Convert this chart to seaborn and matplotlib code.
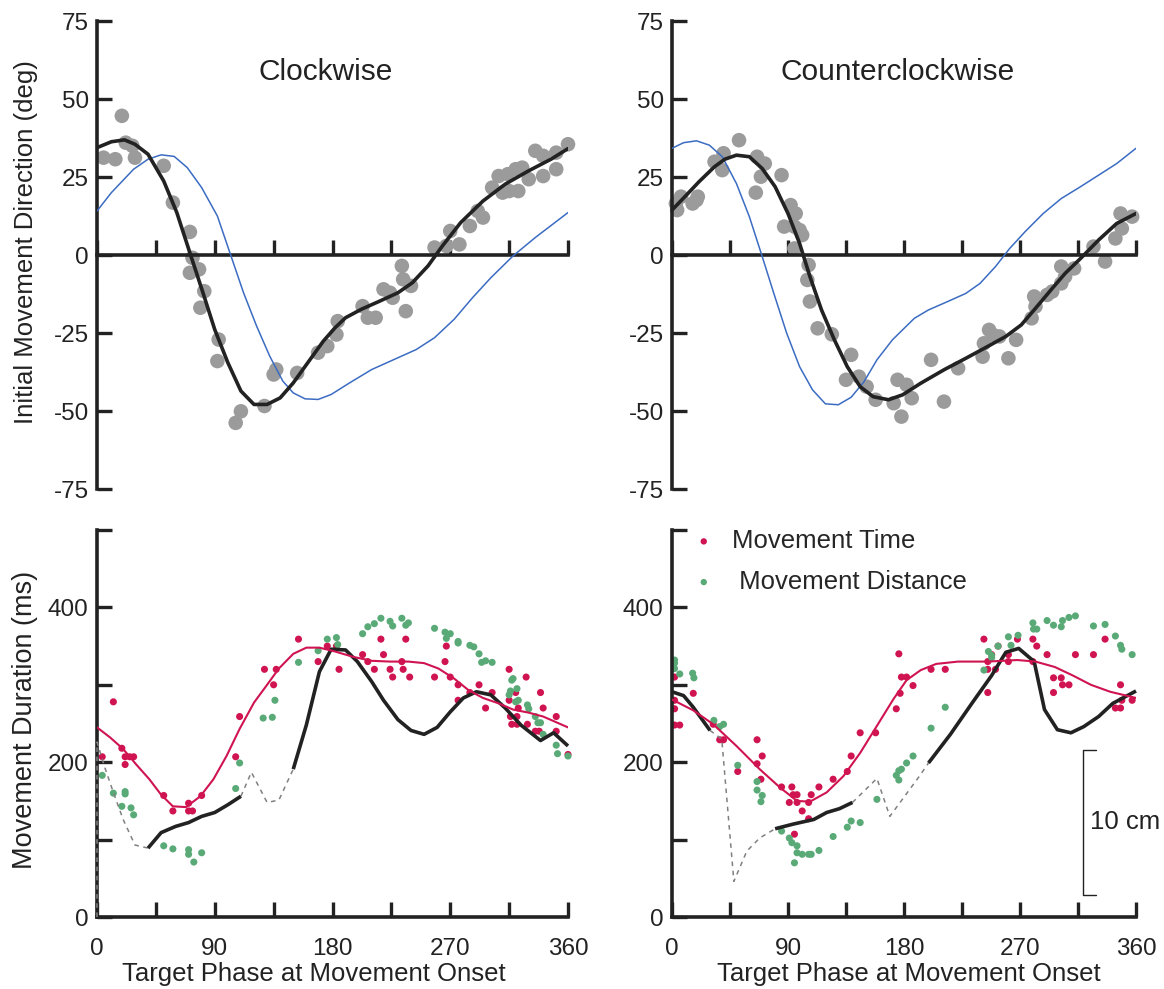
import numpy as np
import matplotlib
matplotlib.use("Agg")
import matplotlib.pyplot as plt
import seaborn as sns

# -------------------------------
# DATA : INITIAL MOVEMENT DIRECTION
# -------------------------------

cw_fit_x = [0, 11, 21, 29, 39, 51, 61, 71, 81, 90, 100, 110, 120, 130, 140, 150, 162,
            173, 182, 190, 202, 216, 230, 241, 253, 264, 278, 295, 312, 330, 347, 360]
cw_fit_y = [34.4, 36.3, 36.9, 35.5, 32.3, 23.7, 13.6, 0.7, -12.1, -23.9, -34.5, -43.6,
            -47.9, -47.9, -45.8, -41.0, -34.0, -27.6, -23.3, -20.1, -17.4, -14.8, -12.1,
            -8.9, -3.5, 2.9, 10.4, 17.3, 22.7, 27.0, 30.7, 34.1]

cw_model_x = [0, 11, 28, 39, 49, 59, 69, 80, 92, 102, 112, 122, 132, 142, 150, 159, 169,
              179, 193, 210, 227, 244, 258, 273, 287, 301, 318, 335, 360]
cw_model_y = [14.1, 20.0, 27.5, 30.7, 32.1, 31.6, 28.0, 21.6, 12.5, 0.2, -12.1, -22.8,
              -32.4, -40.4, -44.2, -46.1, -46.3, -44.7, -41.0, -36.7, -33.5, -30.3, -26.5,
              -20.6, -13.7, -7.3, -0.3, 5.6, 13.6]

cw_dots_x = [5, 14, 19, 22, 27, 29, 51, 58, 71, 73, 71, 78, 82, 79, 93, 92, 106, 110,
             128, 135, 137, 153, 169, 176, 183, 184, 203, 207, 213, 219, 224, 226, 233,
             234, 240, 236, 258, 267, 270, 277, 285, 291, 295, 302, 307, 310, 314, 315,
             320, 322, 325, 330, 335, 341, 341, 351, 351, 360]
cw_dots_y = [31.2, 30.7, 44.6, 36.0, 35.0, 31.2, 28.6, 16.8, 7.4, -0.9, -5.7, -4.6,
             -11.6, -16.9, -27.1, -34.0, -53.8, -50.1, -48.4, -38.3, -36.7, -37.8, -31.3,
             -29.2, -25.5, -21.2, -16.4, -20.1, -20.1, -11.0, -12.1, -13.7, -3.5, -7.8,
             -9.9, -18.0, 2.4, 2.9, 7.7, 3.4, 9.3, 14.1, 12.0, 21.6, 25.3, 20.0, 25.9,
             20.5, 27.5, 20.5, 28.0, 24.3, 33.4, 31.8, 25.3, 32.8, 27.5, 35.5]

ccw_fit_x = [0, 10, 21, 33, 41, 50, 60, 70, 80, 90, 99, 107, 116, 126, 136, 146, 156,
             168, 179, 193, 211, 228, 245, 259, 271, 282, 294, 305, 317, 331, 345, 360]
ccw_fit_y = [14.4, 18.7, 23.5, 28.3, 30.7, 32.0, 31.5, 27.7, 21.9, 13.3, 3.7, -6.9,
             -17.6, -27.2, -35.8, -42.2, -45.4, -46.4, -44.8, -41.1, -36.8, -33.1, -29.3,
             -26.1, -22.4, -17.1, -11.2, -5.9, -1.1, 4.8, 10.1, 13.3]

ccw_model_x = [0, 9, 19, 29, 39, 50, 60, 70, 79, 89, 99, 109, 119, 129, 139, 149, 159,
               171, 188, 199, 214, 228, 239, 251, 262, 274, 288, 302, 317, 331, 345, 360]
ccw_model_y = [34.2, 36.0, 36.6, 35.2, 31.5, 22.9, 12.3, -0.5, -12.3, -25.1, -35.8,
               -43.2, -47.7, -48.0, -45.6, -40.6, -33.6, -27.2, -20.3, -17.6, -14.9,
               -12.3, -9.1, -3.7, 2.1, 7.5, 13.3, 18.1, 21.9, 25.6, 29.3, 34.2]

ccw_dots_x = [3, 4, 7, 16, 20, 19, 33, 39, 40, 52, 66, 65, 69, 72, 85, 87, 92, 96, 95,
              99, 101, 95, 106, 105, 107, 113, 124, 139, 135, 145, 151, 158, 172, 175,
              182, 178, 186, 201, 211, 222, 241, 242, 246, 249, 254, 261, 267, 279, 281,
              282, 291, 295, 302, 302, 305, 312, 327, 336, 344, 348, 349, 357]
ccw_dots_y = [16.5, 14.4, 18.7, 16.5, 18.7, 17.6, 29.9, 27.2, 32.6, 36.8, 31.5, 20.0,
              25.1, 29.3, 25.6, 9.1, 16.0, 13.3, 9.1, 8.0, 6.4, 2.1, -3.2, -8.0, -14.9,
              -23.5, -25.4, -32.0, -40.0, -39.0, -42.2, -46.4, -47.5, -40.0, -41.6, -51.8,
              -45.9, -33.6, -47.0, -36.3, -32.6, -28.3, -24.0, -25.6, -26.1, -33.1, -27.2,
              -20.3, -13.3, -16.5, -12.8, -11.7, -3.7, -9.1, -6.9, -4.3, 2.7, -2.1, 5.3,
              13.3, 8.5, 12.3]

# -------------------------------
# DATA : MOVEMENT DURATION
# -------------------------------

cw_time_fit_x = [0, 10, 20, 30, 40, 49, 58, 68, 79, 89, 99, 109, 120, 130, 139, 150, 160,
                 170, 182, 196, 210, 224, 238, 250, 261, 273, 284, 295, 307, 318, 330, 341, 360]
cw_time_fit_y = [245, 232, 217, 197, 178, 158, 143, 142, 156, 178, 208, 243, 277, 300,
                 321, 340, 348, 348, 343, 336, 331, 330, 330, 328, 321, 308, 293, 283, 276,
                 268, 264, 259, 245]

# solid pieces of the black trace and the dashed gaps between them
cw_solid = [
    ([39, 49, 60, 70, 80, 90, 100, 110], [89, 109, 117, 122, 130, 135, 145, 156]),
    ([150, 160, 170, 179, 190, 199, 210, 219, 230, 240, 250, 260, 270, 280, 290, 301,
      312, 324, 339, 349, 360],
     [191, 248, 317, 346, 345, 330, 304, 280, 255, 241, 236, 245, 265, 283, 291, 287,
      270, 248, 228, 238, 221]),
]
cw_dashed = [
    ([0, 0, 6, 12.5, 20, 29, 39], [0, 226, 193, 161, 126, 93, 89]),
    ([110, 118, 130, 139, 150], [156, 187, 148, 151, 191]),
]

cw_time_x = [4, 12.5, 19, 21.5, 21.5, 25, 28, 51, 58, 70, 70, 73, 80, 106, 109, 128,
             135, 137, 154, 169, 176, 183, 185, 203, 207, 212, 217, 219, 224, 226, 233,
             234, 236, 239, 258, 266, 267, 270, 276, 276, 285, 292, 297, 302, 315, 315,
             316, 317, 320, 321, 321, 322, 328, 329, 335, 338, 339, 341, 351, 351, 360]
cw_time_y = [207, 278, 218, 207, 197, 207, 207, 157, 137, 147, 137, 137, 157, 207, 259,
             320, 300, 320, 359, 330, 350, 350, 320, 339, 330, 320, 359, 339, 320, 310,
             330, 320, 359, 310, 310, 330, 350, 310, 300, 280, 290, 300, 270, 290, 320,
             280, 259, 249, 290, 259, 249, 270, 310, 249, 240, 240, 290, 270, 259, 240, 210]

cw_dist_x = [4, 12.5, 21.5, 21.5, 19, 26, 28, 51, 58, 70, 70, 74, 80, 106, 109, 127,
             134, 136, 154, 169, 176, 183, 184, 203, 207, 212, 217, 224, 226, 233, 236,
             238, 258, 266, 267, 270, 276, 276, 285, 288, 292, 294, 297, 302, 315, 316,
             317, 318, 320, 321, 322, 329, 330, 335, 337, 339, 341, 351, 352, 360]
cw_dist_y = [183, 160, 159, 162, 143, 141, 132, 92, 88, 87, 81, 71, 83, 166, 199, 257,
             258, 280, 329, 344, 359, 361, 352, 366, 375, 379, 386, 382, 376, 386, 377,
             380, 373, 368, 360, 366, 356, 354, 351, 349, 340, 329, 331, 329, 287, 292,
             306, 308, 278, 295, 280, 274, 269, 259, 251, 251, 236, 222, 211, 208]

ccw_time_fit_x = [0, 16.5, 32, 50, 68, 84, 97, 107, 120, 133, 146, 159, 172, 182, 193,
                  205, 222, 245, 268, 282, 297, 311, 325, 340, 360]
ccw_time_fit_y = [281, 267, 249, 221, 191, 167, 150, 149, 161, 182, 212, 247, 282, 306,
                  319, 327, 330, 330, 332, 330, 323, 312, 300, 291, 283]

ccw_solid = [
    ([0, 9, 16.5, 23, 29.5], [291, 286, 271, 256, 241]),
    ([80, 94, 110, 120, 130, 140], [114, 120, 126, 135, 140, 148]),
    ([199, 216, 233.5, 248, 259, 269, 281, 289, 299, 309.5, 319.5, 331, 342, 360],
     [199, 236, 278, 312, 342, 347, 330, 268, 242, 238, 246, 259, 276, 292]),
]
ccw_dashed = [
    ([29.5, 38.6, 48, 58, 68, 80], [241, 230, 46, 85, 102, 114]),
    ([140, 159, 169, 192, 199], [148, 179, 130, 182, 199]),
]

ccw_time_x = [2, 2, 2, 2, 6, 16.5, 32, 37, 40, 51, 66, 66, 70, 69, 85, 93, 91, 97, 106,
              94, 97, 108, 101, 106, 95, 114, 125, 136, 139, 146, 158, 174, 176, 177,
              178, 182, 187, 201, 212, 242, 245, 245, 245, 248, 251, 253, 261, 261, 268,
              280, 280, 283, 291, 296, 296, 302, 303, 308, 313, 327, 336, 344, 348, 348,
              349, 357]
ccw_time_y = [310, 280, 269, 248, 248, 289, 249, 229, 229, 188, 229, 198, 208, 178, 168,
              168, 148, 148, 148, 158, 158, 158, 137, 127, 107, 168, 178, 188, 208, 238,
              238, 269, 340, 289, 310, 310, 299, 320, 320, 359, 330, 320, 290, 339, 320,
              350, 330, 339, 359, 359, 330, 350, 339, 290, 309, 309, 300, 300, 339, 339,
              359, 270, 270, 300, 280, 280]

ccw_dist_x = [2, 2, 2, 6, 16, 17, 32.5, 37, 40, 51, 66, 66, 70, 69, 85, 91, 93, 97, 97,
              101, 106, 108, 95, 114, 125, 136, 139, 146, 159, 174, 176, 176, 178, 182,
              187, 201, 212, 242, 245.5, 248, 248, 253, 261, 263, 268.5, 280, 280.5, 283,
              291, 296, 302, 303, 308, 313, 327, 336, 344, 348, 349, 357]
ccw_dist_y = [332, 328, 321, 314, 315, 309, 254, 246, 249, 196, 175, 164, 157, 149, 111,
              102, 96, 92, 83, 81, 81, 81, 70, 86, 104, 116, 124, 122, 152, 183, 177, 189,
              191, 199, 208, 244, 271, 319, 343, 338, 335, 350, 362, 351, 364, 380, 372,
              372, 383, 377, 375, 383, 387, 389, 376, 378, 363, 351, 346, 339]

# scale bar annotation (bottom right panel)
bar_x, bar_x_end = 319, 329
bar_y0, bar_y1 = 29, 216
bar_label = "10 cm"

# -------------------------------
# STYLE
# -------------------------------

sns.set_theme(style="white")
plt.rcParams['font.family'] = ['Liberation Sans', 'DejaVu Sans']
plt.rcParams['axes.unicode_minus'] = False

INK = "#222222"
GRAY_DOT = "#9b9b9b"
BLUE = "#3b6cc2"
RED = "#cf1451"
GREEN = "#5aaa78"
FS = 18.5
TICK_FS = 17.5

W, H = 1164, 989
fig = plt.figure(figsize=(W / 100, H / 100), dpi=100)


def box(x0, x1, ytop, ybot):
    return [x0 / W, 1 - ybot / H, (x1 - x0) / W, (ybot - ytop) / H]


ax_tl = fig.add_axes(box(97, 568, 21, 489))
ax_tr = fig.add_axes(box(672, 1136, 21, 489))
ax_bl = fig.add_axes(box(97, 568, 530, 917))
ax_br = fig.add_axes(box(672, 1136, 530, 917))


def style_axes(ax):
    for side in ['top', 'right']:
        ax.spines[side].set_visible(False)
    for side in ['left', 'bottom']:
        ax.spines[side].set_linewidth(2.6)
        ax.spines[side].set_color(INK)
    ax.set_xlim(0, 360)
    ax.set_xticks(np.arange(0, 361, 45))
    ax.tick_params(axis='both', which='major', direction='in', length=11, width=2.4,
                   color=INK, labelsize=TICK_FS, labelcolor=INK,
                   bottom=True, left=True, top=False, right=False)
    ax.tick_params(axis='y', pad=6)
    ax.tick_params(axis='x', pad=15)
    ax.set_facecolor('none')


# -------------------------------
# TOP PANELS : DIRECTION
# -------------------------------

top_sets = [
    (ax_tl, cw_fit_x, cw_fit_y, cw_model_x, cw_model_y, cw_dots_x, cw_dots_y, "Clockwise"),
    (ax_tr, ccw_fit_x, ccw_fit_y, ccw_model_x, ccw_model_y, ccw_dots_x, ccw_dots_y,
     "Counterclockwise"),
]

for ax, fx, fy, mx, my, dx, dy, title in top_sets:
    style_axes(ax)
    sns.scatterplot(x=dx, y=dy, ax=ax, color=GRAY_DOT, s=110, edgecolor='none',
                    clip_on=False, zorder=2)
    sns.lineplot(x=mx, y=my, ax=ax, color=BLUE, linewidth=1.1, sort=False,
                 estimator=None, zorder=3)
    sns.lineplot(x=fx, y=fy, ax=ax, color=INK, linewidth=2.6, sort=False,
                 estimator=None, zorder=4)
    ax.set_ylim(-75, 75)
    ax.set_yticks(np.arange(-75, 76, 25))
    ax.spines['bottom'].set_position(('data', 0))
    ax.set_xticklabels([])
    ax.text(175, 58.5, title, ha='center', va='center', fontsize=21.5, color=INK)

ax_tl.set_ylabel("Initial Movement Direction (deg)", fontsize=FS, color=INK)
ax_tl.yaxis.set_label_coords(-0.125, 0.527)

# -------------------------------
# BOTTOM PANELS : DURATION
# -------------------------------

bottom_sets = [
    (ax_bl, cw_time_fit_x, cw_time_fit_y, cw_solid, cw_dashed,
     cw_time_x, cw_time_y, cw_dist_x, cw_dist_y, 0.46),
    (ax_br, ccw_time_fit_x, ccw_time_fit_y, ccw_solid, ccw_dashed,
     ccw_time_x, ccw_time_y, ccw_dist_x, ccw_dist_y, 0.511),
]

for ax, fx, fy, solid, dashed, tx, ty, sx, sy, lab_x in bottom_sets:
    style_axes(ax)
    sns.scatterplot(x=tx, y=ty, ax=ax, color=RED, s=26, edgecolor='none',
                    clip_on=False, zorder=2, label="Movement Time")
    sns.scatterplot(x=sx, y=sy, ax=ax, color=GREEN, s=26, edgecolor='none',
                    clip_on=False, zorder=2, label=" Movement Distance")
    for xs, ys in dashed:
        ax.plot(xs, ys, color="#808080", linewidth=1.1, linestyle=(0, (3, 3)),
                clip_on=False, zorder=3)
    for xs, ys in solid:
        ax.plot(xs, ys, color=INK, linewidth=2.6, clip_on=False, zorder=4,
                solid_capstyle='butt')
    sns.lineplot(x=fx, y=fy, ax=ax, color=RED, linewidth=1.5, sort=False,
                 estimator=None, zorder=5)
    ax.set_ylim(0, 500)
    ax.set_yticks(np.arange(0, 501, 100))
    ax.set_yticklabels(['0', '', '200', '', '400', ''])
    ax.set_xticklabels(['0', '', '90', '', '180', '', '270', '', '360'])
    ax.set_xlabel("Target Phase at Movement Onset", fontsize=FS, color=INK)
    ax.xaxis.set_label_coords(lab_x, -0.117)

ax_bl.get_legend().remove()
ax_bl.set_ylabel("Movement Duration (ms)", fontsize=19.5, color=INK)
ax_bl.yaxis.set_label_coords(-0.125, 0.509)

ax_br.legend(loc='upper left', bbox_to_anchor=(0.002, 1.062), frameon=False,
             fontsize=FS, handlelength=0.6, handletextpad=0.8, labelspacing=0.65,
             markerscale=0.9)

# scale bar
ax_br.plot([bar_x_end, bar_x, bar_x, bar_x_end], [bar_y1, bar_y1, bar_y0, bar_y0],
           color=INK, linewidth=1.0, clip_on=False)
ax_br.text(bar_x + 5, (bar_y0 + bar_y1) / 2, bar_label, fontsize=FS, color=INK,
           ha='left', va='center', clip_on=False)

plt.savefig("out.png", dpi=100)
